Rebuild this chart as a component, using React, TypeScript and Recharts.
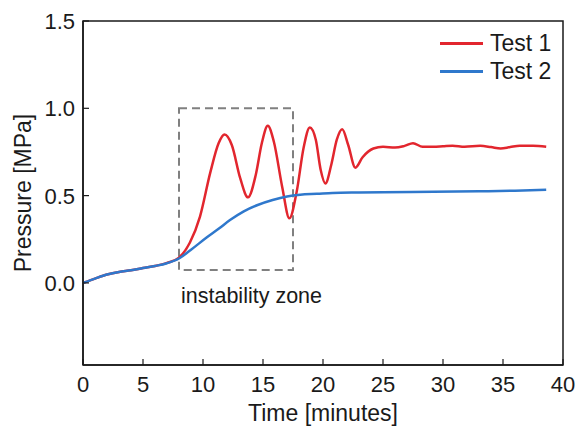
import React from "react";
import {
  LineChart,
  Line,
  XAxis,
  YAxis,
  ReferenceArea,
  Legend,
} from "recharts";

// readings
const test1Time = [
  0, 1, 2, 3, 4, 5, 6, 7, 8, 8.9, 9.75, 10.6, 11.3, 11.8, 12.4, 13.1, 13.75, 14.4,
  14.9, 15.4, 15.9, 16.6, 17.2, 17.8, 18.4, 18.9, 19.4, 19.8, 20.2, 20.7, 21.15,
  21.6, 22.1, 22.7, 23.3, 24.2, 25.0, 26.0, 26.8, 27.5, 28.3, 29.2, 30.0, 30.8,
  31.8, 33.1, 34.0, 34.8, 35.6, 36.4, 37.5, 38.6,
];
const test1Pressure = [
  0, 0.025, 0.048, 0.063, 0.072, 0.085, 0.097, 0.115, 0.145, 0.23, 0.38, 0.63,
  0.8, 0.85, 0.79, 0.6, 0.49, 0.62, 0.8, 0.9, 0.81, 0.55, 0.37, 0.52, 0.78, 0.89,
  0.82, 0.65, 0.57, 0.68, 0.82, 0.88, 0.79, 0.66, 0.72, 0.77, 0.78, 0.775, 0.785,
  0.8, 0.78, 0.78, 0.783, 0.786, 0.78, 0.785, 0.778, 0.77, 0.778, 0.785, 0.785,
  0.78,
];
const test2Time = [
  0, 1, 2, 3, 4, 5, 6, 7, 8, 9, 10.3, 11.3, 12.25, 13.4, 14.5, 15.8, 17, 18.1,
  19.5, 20.8, 23, 25, 29.2, 33, 36, 38.6,
];
const test2Pressure = [
  0, 0.025, 0.048, 0.063, 0.072, 0.085, 0.097, 0.113, 0.14, 0.19, 0.26, 0.31,
  0.36, 0.41, 0.445, 0.475, 0.495, 0.505, 0.51, 0.515, 0.518, 0.52, 0.522, 0.525,
  0.528, 0.533,
];
const timeTicks = [0, 5, 10, 15, 20, 25, 30, 35, 40];
const pressureTicks = [0, 0.5, 1.0, 1.5];
const zone = { from: 8, to: 17.5, low: 0.074, high: 1.0 };

const test1Data = test1Time.map((t, i) => ({ time: t, pressure: test1Pressure[i] }));
const test2Data = test2Time.map((t, i) => ({ time: t, pressure: test2Pressure[i] }));

const FONT = "'Liberation Sans', Arial, sans-serif";
const INK = "#1a1a1a";
const RED = "#e2262e";
const BLUE = "#2f78cc";
const Y_MIN = -0.47;
const TICK_GAP_X = 11;
const TICK_GAP_Y = 8;
const TICK_LEN = 6;

function TimeTick({ x, y, payload }: any) {
  const axisY = y - TICK_GAP_X;
  return (
    <g>
      <line x1={x} x2={x} y1={axisY} y2={axisY - TICK_LEN} stroke={INK} strokeWidth={1.2} />
      <text x={x} y={y} dy="0.71em" textAnchor="middle" fill={INK} fontSize={22} fontFamily={FONT}>
        {payload.value}
      </text>
    </g>
  );
}

function PressureTick({ x, y, payload }: any) {
  const axisX = x + TICK_GAP_Y;
  return (
    <g>
      <line x1={axisX} x2={axisX + TICK_LEN} y1={y} y2={y} stroke={INK} strokeWidth={1.2} />
      <text x={x} y={y} dy="0.36em" textAnchor="end" fill={INK} fontSize={22} fontFamily={FONT}>
        {payload.value.toFixed(1)}
      </text>
    </g>
  );
}

function ZoneLabel({ viewBox }: any) {
  return (
    <text
      x={viewBox.x + 2}
      y={viewBox.y + viewBox.height + 33}
      fill={INK}
      fontSize={21.5}
      fontFamily={FONT}
    >
      instability zone
    </text>
  );
}

function LegendBox({ payload }: any) {
  return (
    <div style={{ fontFamily: FONT, fontSize: 23, color: INK }}>
      {payload.map((p: any) => (
        <div key={p.value} style={{ display: "flex", alignItems: "center", height: 28 }}>
          <span
            style={{ display: "inline-block", width: 43, height: 3, background: p.color, marginRight: 7 }}
          />
          <span>{p.value}</span>
        </div>
      ))}
    </div>
  );
}

export default function App() {
  return (
    <div style={{ position: "absolute", left: 0, top: 0, background: "#fff" }}>
      <LineChart width={582} height={430} margin={{ top: 21, right: 19, left: 0, bottom: 0 }}>
        <XAxis
          dataKey="time"
          type="number"
          domain={[0, 40]}
          ticks={timeTicks}
          allowDataOverflow
          height={65}
          tickSize={0}
          tickMargin={TICK_GAP_X}
          tick={<TimeTick />}
          axisLine={{ stroke: INK, strokeWidth: 1.5 }}
          label={{
            value: "Time [minutes]",
            position: "insideBottom",
            offset: 9,
            style: { fill: INK, fontSize: 23, fontFamily: FONT },
          }}
        />
        <YAxis
          type="number"
          domain={[Y_MIN, 1.5]}
          ticks={pressureTicks}
          allowDataOverflow
          width={83}
          tickSize={0}
          tickMargin={TICK_GAP_Y}
          tick={<PressureTick />}
          axisLine={{ stroke: INK, strokeWidth: 1.5 }}
          label={{
            value: "Pressure [MPa]",
            angle: -90,
            position: "insideLeft",
            offset: 23,
            style: { fill: INK, fontSize: 23, fontFamily: FONT, textAnchor: "middle" },
          }}
        />
        <ReferenceArea
          x1={0}
          x2={40}
          y1={Y_MIN}
          y2={1.5}
          fill="none"
          stroke={INK}
          strokeWidth={1.5}
        />
        <ReferenceArea
          x1={zone.from}
          x2={zone.to}
          y1={zone.low}
          y2={zone.high}
          fill="none"
          stroke="#808080"
          strokeWidth={2}
          strokeDasharray="8 5"
          label={(props: any) => <ZoneLabel {...props} />}
        />
        <Line
          data={test1Data}
          dataKey="pressure"
          name="Test 1"
          type="monotone"
          stroke={RED}
          strokeWidth={2.5}
          dot={false}
          isAnimationActive={false}
        />
        <Line
          data={test2Data}
          dataKey="pressure"
          name="Test 2"
          type="monotone"
          stroke={BLUE}
          strokeWidth={2.5}
          dot={false}
          isAnimationActive={false}
        />
        <Legend
          layout="vertical"
          align="center"
          verticalAlign="middle"
          content={<LegendBox />}
          wrapperStyle={{ top: 29, left: 440, width: 135 }}
        />
      </LineChart>
    </div>
  );
}
